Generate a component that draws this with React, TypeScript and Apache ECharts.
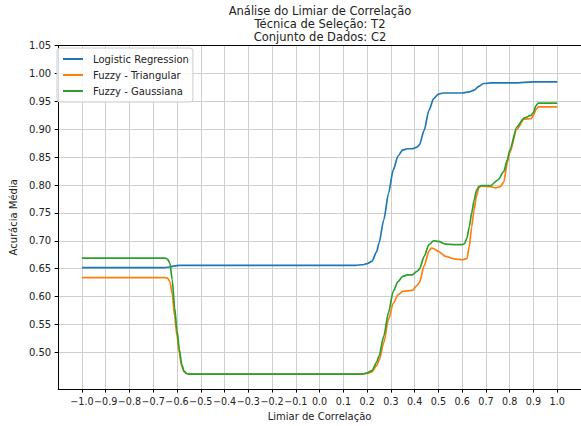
import React, { useEffect, useRef } from 'react';
import * as echarts from 'echarts';

const xTicks = [-1.0, -0.9, -0.8, -0.7, -0.6, -0.5, -0.4, -0.3, -0.2, -0.1, 0.0, 0.1, 0.2, 0.3, 0.4, 0.5, 0.6, 0.7, 0.8, 0.9, 1.0];
const yTicks = [0.5, 0.55, 0.6, 0.65, 0.7, 0.75, 0.8, 0.85, 0.9, 0.95, 1.0, 1.05];

const lrX = [-1.0, -0.65, -0.63, -0.61, -0.59, 0.15, 0.18, 0.2, 0.22, 0.24, 0.25, 0.27, 0.29, 0.31, 0.33, 0.35, 0.37, 0.39, 0.41, 0.42, 0.44, 0.46, 0.48, 0.5, 0.52, 0.6, 0.63, 0.65, 0.67, 0.69, 0.72, 0.82, 0.9, 1.0];
const lrY = [0.652, 0.652, 0.653, 0.655, 0.656, 0.656, 0.657, 0.659, 0.663, 0.68, 0.696, 0.737, 0.785, 0.827, 0.852, 0.863, 0.865, 0.865, 0.868, 0.872, 0.898, 0.934, 0.955, 0.963, 0.965, 0.965, 0.967, 0.97, 0.977, 0.982, 0.983, 0.983, 0.985, 0.985];

const triX = [-1.0, -0.65, -0.64, -0.63, -0.62, -0.61, -0.6, -0.59, -0.58, -0.57, -0.56, -0.55, 0.18, 0.2, 0.22, 0.24, 0.25, 0.27, 0.29, 0.31, 0.33, 0.35, 0.37, 0.39, 0.41, 0.42, 0.44, 0.46, 0.47, 0.48, 0.5, 0.53, 0.57, 0.6, 0.62, 0.63, 0.64, 0.65, 0.66, 0.67, 0.68, 0.72, 0.74, 0.76, 0.775, 0.79, 0.8, 0.83, 0.86, 0.89, 0.9, 0.91, 0.92, 1.0];
const triY = [0.634, 0.634, 0.633, 0.627, 0.605, 0.565, 0.53, 0.498, 0.475, 0.465, 0.462, 0.461, 0.461, 0.462, 0.465, 0.476, 0.485, 0.517, 0.559, 0.588, 0.603, 0.6095, 0.61, 0.611, 0.62, 0.625, 0.655, 0.681, 0.687, 0.686, 0.681, 0.672, 0.667, 0.666, 0.668, 0.69, 0.725, 0.755, 0.78, 0.795, 0.798, 0.797, 0.795, 0.797, 0.805, 0.84, 0.858, 0.9, 0.918, 0.919, 0.925, 0.935, 0.94, 0.94];

const gauX = [-1.0, -0.65, -0.64, -0.63, -0.62, -0.61, -0.6, -0.59, -0.58, -0.57, -0.56, -0.55, 0.18, 0.2, 0.22, 0.24, 0.25, 0.27, 0.29, 0.31, 0.33, 0.35, 0.37, 0.39, 0.41, 0.42, 0.44, 0.46, 0.48, 0.5, 0.53, 0.57, 0.6, 0.61, 0.62, 0.63, 0.64, 0.65, 0.66, 0.67, 0.68, 0.72, 0.75, 0.775, 0.79, 0.8, 0.83, 0.86, 0.89, 0.9, 0.91, 0.92, 1.0];
const gauY = [0.669, 0.669, 0.667, 0.66, 0.63, 0.58, 0.54, 0.505, 0.478, 0.466, 0.462, 0.461, 0.461, 0.463, 0.467, 0.482, 0.493, 0.529, 0.571, 0.6095, 0.627, 0.636, 0.639, 0.639, 0.645, 0.649, 0.672, 0.693, 0.7, 0.699, 0.694, 0.693, 0.693, 0.695, 0.705, 0.725, 0.75, 0.772, 0.79, 0.797, 0.799, 0.799, 0.809, 0.824, 0.845, 0.862, 0.904, 0.92, 0.925, 0.93, 0.942, 0.947, 0.947];

const seriesNames = ['Logistic Regression', 'Fuzzy - Triangular', 'Fuzzy - Gaussiana'];
const seriesColors = ['#1f77b4', '#ff7f0e', '#2ca02c'];
const titleLines = ['Análise do Limiar de Correlação', 'Técnica de Seleção: T2', 'Conjunto de Dados: C2'];

const FONT = 'DejaVu Sans';

function pairs(xs: number[], ys: number[]) {
  return xs.map((x, i) => [x, ys[i]]);
}

export default function App() {
  const ref = useRef<HTMLDivElement>(null);
  useEffect(() => {
    if (!ref.current) return;
    const chart = echarts.init(ref.current, undefined, { renderer: 'svg' });
    const data = [pairs(lrX, lrY), pairs(triX, triY), pairs(gauX, gauY)];
    const fmtX = (v: number) => {
      const s = Math.abs(v).toFixed(1);
      return v < -1e-9 ? '\u2212' + s : s;
    };
    chart.setOption({
      animation: false,
      backgroundColor: '#ffffff',
      textStyle: { fontFamily: FONT },
      grid: { left: 54, top: 45.6, width: 531, height: 343.7, containLabel: false },
      graphic: [
        {
          type: 'text',
          x: 320,
          y: 4,
          style: {
            text: titleLines.join('\n'),
            textAlign: 'center',
            fontFamily: FONT,
            fontSize: 11.5,
            lineHeight: 13,
            fill: '#222',
          },
        },
      ],
      legend: {
        orient: 'vertical',
        left: 57,
        top: 48,
        padding: [5, 4, 5, 6],
        itemGap: 4,
        itemWidth: 20,
        itemHeight: 2,
        icon: 'rect',
        backgroundColor: 'rgba(255,255,255,0.85)',
        borderColor: '#cccccc',
        borderWidth: 1,
        borderRadius: 3,
        data: seriesNames,
        textStyle: { fontFamily: FONT, fontSize: 10, color: '#222', lineHeight: 12, padding: [0, 0, 0, 5] },
      },
      xAxis: [
        {
          type: 'value',
          min: -1.1,
          max: 1.1,
          name: 'Limiar de Correlação',
          nameLocation: 'middle',
          nameGap: 18,
          nameTextStyle: { fontFamily: FONT, fontSize: 10, color: '#222' },
          axisLine: { show: true, onZero: false, lineStyle: { color: '#000', width: 1 } },
          axisTick: { show: true, length: 3.5, inside: false, customValues: xTicks, lineStyle: { color: '#000' } },
          axisLabel: {
            customValues: xTicks,
            formatter: fmtX,
            margin: 7,
            hideOverlap: false,
            fontFamily: FONT,
            fontSize: 9.6,
            color: '#222',
          },
          splitLine: { show: true, lineStyle: { color: '#cfcfcf', width: 1 } },
        },
        {
          type: 'value',
          position: 'top',
          min: -1.1,
          max: 1.1,
          axisLine: { show: true, onZero: false, lineStyle: { color: '#000', width: 1 } },
          axisTick: { show: false },
          axisLabel: { show: false },
          splitLine: { show: false },
        },
      ],
      yAxis: {
        type: 'value',
        min: 0.434,
        max: 1.05,
        name: 'Acurácia Média',
        nameLocation: 'middle',
        nameGap: 34,
        nameTextStyle: { fontFamily: FONT, fontSize: 10, color: '#222' },
        axisLine: { show: true, onZero: false, lineStyle: { color: '#000', width: 1 } },
        axisTick: { show: true, length: 3.5, customValues: yTicks, lineStyle: { color: '#000' } },
        axisLabel: {
          customValues: yTicks,
          formatter: (v: number) => v.toFixed(2),
          margin: 7,
          showMinLabel: true,
          showMaxLabel: true,
          fontFamily: FONT,
          fontSize: 10,
          color: '#222',
        },
        splitLine: { show: true, lineStyle: { color: '#cfcfcf', width: 1 } },
      },
      series: seriesNames.map((name, i) => ({
        name,
        type: 'line',
        data: data[i],
        showSymbol: false,
        symbol: 'none',
        smooth: 0.25,
        smoothMonotone: 'x',
        lineStyle: { color: seriesColors[i], width: 1.7 },
        itemStyle: { color: seriesColors[i] },
        xAxisIndex: 0,
      })),
    });
    return () => chart.dispose();
  }, []);
  return <div ref={ref} style={{ position: 'absolute', left: 0, top: 0, width: 581, height: 426 }} />;
}
